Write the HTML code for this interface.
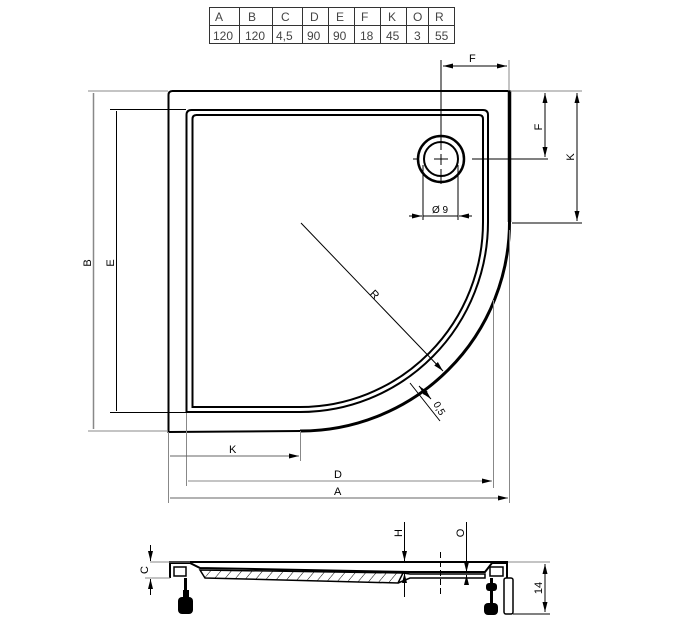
<!DOCTYPE html>
<html><head><meta charset="utf-8"><style>
html,body{margin:0;padding:0;background:#fff;}
svg{display:block;font-family:"Liberation Sans","DejaVu Sans",sans-serif;}
</style></head><body>
<svg width="684" height="630" viewBox="0 0 684 630" xmlns="http://www.w3.org/2000/svg">
<defs>
<marker id="a" viewBox="0 0 10 6" refX="10" refY="3" markerWidth="10" markerHeight="6" orient="auto-start-reverse" markerUnits="userSpaceOnUse"><path d="M0,0.5 L10,3 L0,5.5z" fill="#000"/></marker>
<pattern id="h" width="8" height="8" patternUnits="userSpaceOnUse" patternTransform="rotate(40)"><line x1="0" y1="0" x2="0" y2="8" stroke="#000" stroke-width="1"/></pattern>
</defs>
<g fill="none" stroke="#333" stroke-width="1">
<rect x="209.5" y="7.5" width="245" height="36"/>
<line x1="209" y1="25.5" x2="455" y2="25.5"/>
<line x1="239.5" y1="7" x2="239.5" y2="44"/><line x1="272.5" y1="7" x2="272.5" y2="44"/>
<line x1="302.5" y1="7" x2="302.5" y2="44"/><line x1="328.5" y1="7" x2="328.5" y2="44"/>
<line x1="354.5" y1="7" x2="354.5" y2="44"/><line x1="380.5" y1="7" x2="380.5" y2="44"/>
<line x1="406.5" y1="7" x2="406.5" y2="44"/><line x1="428.5" y1="7" x2="428.5" y2="44"/>
</g>
<g font-size="12" fill="#444">
<text x="215" y="21">A</text><text x="248" y="21">B</text><text x="281" y="21">C</text><text x="310" y="21">D</text><text x="336" y="21">E</text><text x="361" y="21">F</text><text x="388" y="21">K</text><text x="413" y="21">O</text><text x="435" y="21">R</text>
<text x="213" y="40">120</text><text x="245" y="40">120</text><text x="276" y="40">4,5</text><text x="307" y="40">90</text><text x="333" y="40">90</text><text x="360" y="40">18</text><text x="386" y="40">45</text><text x="414" y="40">3</text><text x="435" y="40">55</text>
</g>
<path d="M168.5,432 L168.5,95 Q168.5,91 172.5,91 L509.5,91 L509.5,222 A209,209 0 0 1 300.5,431 Z" fill="none" stroke="#000" stroke-width="2"/>
<line x1="509.5" y1="91" x2="509.5" y2="222" stroke="#000" stroke-width="3.5"/>
<path d="M300,431 A209,209 0 0 0 509.5,222" fill="none" stroke="#000" stroke-width="3"/>
<path d="M186.5,412 L186.5,115 Q186.5,110 191.5,110 L483,110 Q488,110 488,115 L488,222 A188,190 0 0 1 300,412 Z" fill="none" stroke="#000" stroke-width="2"/>
<path d="M192.5,407 L192.5,119 Q192.5,115 196.5,115 L479,115 Q483,115 483,119 L483,222 A183,185 0 0 1 300,407 Z" fill="none" stroke="#000" stroke-width="2"/>
<circle cx="441" cy="159" r="23" fill="none" stroke="#000" stroke-width="2.5"/>
<circle cx="441" cy="159" r="17" fill="none" stroke="#000" stroke-width="2"/>
<g stroke="#000" stroke-width="1" fill="none">
<line x1="441" y1="60" x2="441" y2="150"/><line x1="441" y1="154" x2="441" y2="165"/><line x1="441" y1="169" x2="441" y2="184"/>
<line x1="413" y1="159" x2="418" y2="159"/><line x1="434" y1="159" x2="448" y2="159"/><line x1="472" y1="159" x2="548" y2="159"/>
<line x1="509" y1="60" x2="509" y2="91" stroke="#888"/>
<line x1="443" y1="66" x2="507" y2="66" marker-start="url(#a)" marker-end="url(#a)"/>
<line x1="510" y1="91" x2="582" y2="91" stroke="#888"/>
<line x1="545" y1="93" x2="545" y2="157" marker-start="url(#a)" marker-end="url(#a)"/>
<line x1="512" y1="223" x2="582" y2="223"/>
<line x1="577" y1="93" x2="577" y2="221" marker-start="url(#a)" marker-end="url(#a)"/>
<line x1="423" y1="165" x2="423" y2="220"/><line x1="458" y1="165" x2="458" y2="220"/>
<line x1="409" y1="216" x2="422" y2="216" marker-end="url(#a)"/><line x1="472" y1="216" x2="459" y2="216" marker-end="url(#a)"/>
<line x1="423" y1="216" x2="458" y2="216"/>
<line x1="88" y1="91" x2="168" y2="91" stroke="#888"/>
<line x1="88" y1="431" x2="168" y2="431" stroke="#888"/>
<line x1="93.5" y1="93" x2="93.5" y2="429" stroke="#888" stroke-width="1.5"/>
<line x1="110" y1="109.5" x2="186" y2="109.5"/>
<line x1="110" y1="412.5" x2="186" y2="412.5"/>
<line x1="116.5" y1="111" x2="116.5" y2="411"/>
<line x1="168.5" y1="432" x2="168.5" y2="503" stroke="#888"/>
<line x1="300.5" y1="431" x2="300.5" y2="461" stroke="#888"/>
<line x1="186.5" y1="413" x2="186.5" y2="486" stroke="#888"/>
<line x1="493.5" y1="300" x2="493.5" y2="488" stroke="#888"/>
<line x1="509.5" y1="230" x2="509.5" y2="503" stroke="#888"/>
<line x1="170" y1="456" x2="299" y2="456" marker-end="url(#a)" stroke="#666"/>
<line x1="188" y1="481" x2="492" y2="481" marker-end="url(#a)" stroke="#888"/>
<line x1="170" y1="498" x2="508" y2="498" marker-end="url(#a)" stroke="#666"/>
<line x1="301" y1="223" x2="443" y2="371" marker-end="url(#a)"/>
<line x1="410" y1="383" x2="440" y2="421"/>
<line x1="419" y1="386" x2="431" y2="399" marker-start="url(#a)" marker-end="url(#a)"/>
</g>
<g font-size="11" fill="#000">
<text x="469" y="62">F</text>
<text transform="translate(542,127) rotate(-90)" text-anchor="middle">F</text>
<text transform="translate(574,157) rotate(-90)" text-anchor="middle">K</text>
<text x="432" y="213" font-size="10">Ø 9</text>
<text transform="translate(91,263) rotate(-90)" text-anchor="middle">B</text>
<text transform="translate(114,263) rotate(-90)" text-anchor="middle">E</text>
<text x="229" y="453">K</text>
<text x="334" y="478">D</text>
<text x="334" y="495">A</text>
<text transform="translate(372,297) rotate(45)" text-anchor="middle">R</text>
<text transform="translate(433,404) rotate(60)" font-size="10">0,5</text>
</g>
<g stroke="#000" fill="none">
<line x1="169" y1="562" x2="508" y2="562" stroke-width="2"/>
<path d="M170,578 L170,563 L190,563 L200,568 L410,572 L485,572 L492,563 L507,563 L507,578" stroke-width="2"/>
<path d="M200,570 L403,573 L398,583 L205,578 Z" fill="url(#h)" stroke-width="1.5"/>
<path d="M403,573 L410,574 L485,574 L485,578 L410,578 L398,583" stroke-width="1.5"/>
<rect x="174" y="567" width="12" height="9" stroke-width="1.5"/>
<rect x="490" y="567" width="13" height="9" stroke-width="1.5"/>
<rect x="504" y="578" width="9" height="36" rx="2" stroke-width="1.5"/>
<line x1="185.5" y1="578" x2="185.5" y2="598" stroke-width="3"/>
<line x1="491.5" y1="578" x2="491.5" y2="606" stroke-width="3"/>
<line x1="150" y1="562" x2="190" y2="562" stroke="#888" stroke-width="1"/>
<line x1="145" y1="578" x2="170" y2="578" stroke="#888" stroke-width="1"/>
<line x1="150.5" y1="545" x2="150.5" y2="561" stroke-width="1" marker-end="url(#a)"/>
<line x1="150.5" y1="595" x2="150.5" y2="579" stroke-width="1" marker-end="url(#a)"/>
<line x1="508" y1="562" x2="550" y2="562" stroke="#888" stroke-width="1"/>
<line x1="513" y1="614" x2="550" y2="614" stroke-width="1"/>
<line x1="545" y1="564" x2="545" y2="612" stroke-width="1" marker-start="url(#a)" marker-end="url(#a)"/>
<line x1="404.5" y1="522" x2="404.5" y2="561" stroke-width="1" marker-end="url(#a)"/>
<line x1="404.5" y1="597" x2="404.5" y2="573" stroke-width="1" marker-end="url(#a)"/>
<line x1="466.5" y1="522" x2="466.5" y2="572" stroke-width="1" marker-end="url(#a)"/>
<line x1="466.5" y1="585" x2="466.5" y2="575" stroke-width="1" marker-end="url(#a)"/>
<line x1="440.5" y1="552" x2="440.5" y2="596" stroke-width="1" stroke-dasharray="6,3"/>
</g>
<rect x="183" y="590" width="6" height="8" fill="#000"/>
<rect x="178" y="597" width="15" height="17" rx="4" fill="#000"/>
<rect x="484" y="603" width="14" height="12" rx="4" fill="#000"/>
<rect x="486" y="583" width="11" height="8" rx="3" fill="#000"/>
<g font-size="11" fill="#000">
<text transform="translate(148,570) rotate(-90)" text-anchor="middle">C</text>
<text transform="translate(402,533) rotate(-90)" text-anchor="middle">H</text>
<text transform="translate(464,533) rotate(-90)" text-anchor="middle">O</text>
<text transform="translate(542,588) rotate(-90)" text-anchor="middle">14</text>
</g>
</svg>
</body></html>
